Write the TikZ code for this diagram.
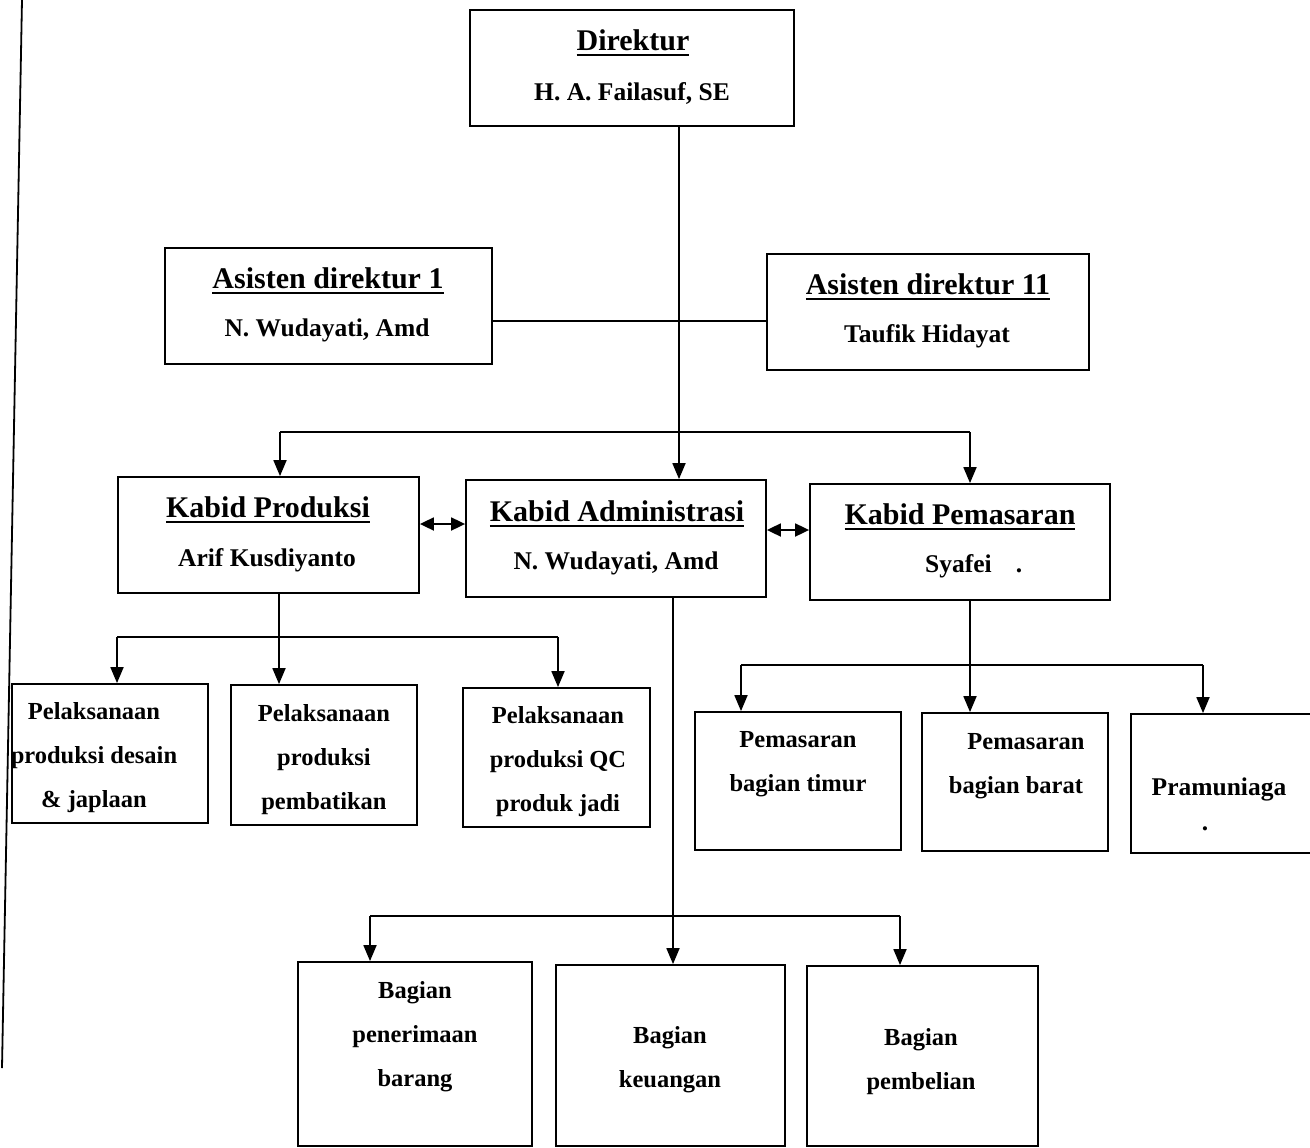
\documentclass[tikz,border=0pt]{standalone}
\usepackage{fontspec}
\setmainfont{Liberation Serif}
\usetikzlibrary{arrows.meta}
\newcommand\myul[1]{\setbox0\hbox{#1}\rlap{\rule[-5.5pt]{\wd0}{2.6pt}}\box0}
\begin{document}
\begin{tikzpicture}[x=1pt,y=-1pt,
  box/.style={draw,line width=1.8pt,inner sep=0pt,rectangle},
  ttl/.style={inner sep=0pt,yshift=-3pt,font=\bfseries\fontsize{30}{36}\selectfont},
  nm/.style={inner sep=0pt,yshift=-3pt,font=\bfseries\fontsize{25.5}{30}\selectfont},
  txt/.style={inner sep=0pt,yshift=-3pt,align=center,font=\bfseries\fontsize{24.5}{44}\selectfont},
  ln/.style={line width=1.8pt},
  arr/.style={line width=1.8pt,-{Triangle[length=16pt,width=13pt]}},
  darr/.style={line width=1.8pt,{Triangle[length=14pt,width=13pt]}-{Triangle[length=14pt,width=13pt]}}]
\useasboundingbox (0,0) rectangle (1310,1148);
\fill[white] (0,0) rectangle (1310,1148);
% scan margin line
\draw[line width=1.8pt] (22,0) -- (2,1068);
% boxes
\node[box,minimum width=324pt,minimum height=116pt] (dir) at (632,68) {};
\node[box,minimum width=327pt,minimum height=116pt] (as1) at (328.5,306) {};
\node[box,minimum width=322pt,minimum height=116pt] (as2) at (928,312) {};
\node[box,minimum width=301pt,minimum height=116pt] (kp) at (268.5,535) {};
\node[box,minimum width=300pt,minimum height=117pt] (ka) at (616,538.5) {};
\node[box,minimum width=300pt,minimum height=116pt] (kpm) at (960,542) {};
\node[box,minimum width=196pt,minimum height=139pt] (pa) at (110,753.5) {};
\node[box,minimum width=186pt,minimum height=140pt] (pb) at (324,755) {};
\node[box,minimum width=187pt,minimum height=139pt] (pc) at (556.5,757.5) {};
\node[box,minimum width=206pt,minimum height=138pt] (mt) at (798,781) {};
\node[box,minimum width=186pt,minimum height=138pt] (mb) at (1015,782) {};
\node[box,minimum width=199pt,minimum height=139pt] (pr) at (1230.5,783.5) {};
\node[box,minimum width=234pt,minimum height=184pt] (bp) at (415,1054) {};
\node[box,minimum width=229pt,minimum height=181pt] (bk) at (670.5,1055.5) {};
\node[box,minimum width=231pt,minimum height=180pt] (bb) at (922.5,1056) {};
% texts
\node[ttl] (dirT) at (633,40) {\myul{Direktur}};
\node[nm] (dirN) at (632,90) {H. A. Failasuf, SE};
\node[ttl] (as1T) at (328,278) {\myul{Asisten direktur 1}};
\node[nm] (as1N) at (327,327) {N. Wudayati, Amd};
\node[ttl] (as2T) at (928,284) {\myul{Asisten direktur 11}};
\node[nm] (as2N) at (927,333) {Taufik Hidayat};
\node[ttl] (kpT) at (268,507) {\myul{Kabid Produksi}};
\node[nm] (kpN) at (267,557) {Arif Kusdiyanto};
\node[ttl] (kaT) at (617,511) {\myul{Kabid Administrasi}};
\node[nm] (kaN) at (616,560) {N. Wudayati, Amd};
\node[ttl] (kpmT) at (960,514) {\myul{Kabid Pemasaran}};
\node[nm,anchor=west] (kpmN) at (925,563) {Syafei\hspace{24pt}.};
\node[txt] (paT) at (94,755) {Pelaksanaan\\produksi desain\\\& japlaan};
\node[txt] (pbT) at (324,757) {Pelaksanaan\\produksi\\pembatikan};
\node[txt] (pcT) at (558,759) {Pelaksanaan\\produksi QC\\produk jadi};
\node[txt] (mtT) at (798,761.5) {Pemasaran\\bagian timur};
\node[txt] (mbT) at (1016,763) {\hspace*{20pt}Pemasaran\\bagian barat};
\node[nm] (prT) at (1219,786) {Pramuniaga};
\node[nm] (prD) at (1205,826) {.};
\node[txt] (bpT) at (415,1034) {Bagian\\penerimaan\\barang};
\node[txt] (bkT) at (670,1057) {Bagian\\keuangan};
\node[txt] (bbT) at (921,1059) {Bagian\\pembelian};
% junction coordinates
\coordinate (jA) at (679,321);
\coordinate (jBl) at (280,432);
\coordinate (jBr) at (970,432);
\coordinate (jC) at (0,524);
\coordinate (jD) at (0,530);
\coordinate (jPl) at (117,637);
\coordinate (jPm) at (279,637);
\coordinate (jPr) at (558,637);
\coordinate (jMl) at (741,665);
\coordinate (jMm) at (970,665);
\coordinate (jMr) at (1203,665);
\coordinate (jAl) at (370,916);
\coordinate (jAm) at (673,916);
\coordinate (jAr) at (900,916);
% connectors
\draw[ln] (as1.east |- jA) -- (as2.west |- jA);
\draw[arr] (dir.south -| jA) -- (ka.north -| jA);
\draw[ln] (jBl) -- (jBr);
\draw[arr] (jBl) -- (kp.north -| jBl);
\draw[arr] (jBr) -- (kpm.north -| jBr);
\draw[darr] (kp.east |- jC) -- (ka.west |- jC);
\draw[darr] (ka.east |- jD) -- (kpm.west |- jD);
% produksi
\draw[arr] (kp.south -| jPm) -- (pb.north -| jPm);
\draw[ln] (jPl) -- (jPr);
\draw[arr] (jPl) -- (pa.north -| jPl);
\draw[arr] (jPr) -- (pc.north -| jPr);
% pemasaran
\draw[arr] (kpm.south -| jMm) -- (mb.north -| jMm);
\draw[ln] (jMl) -- (jMr);
\draw[arr] (jMl) -- (mt.north -| jMl);
\draw[arr] (jMr) -- (pr.north -| jMr);
% administrasi
\draw[arr] (ka.south -| jAm) -- (bk.north -| jAm);
\draw[ln] (jAl) -- (jAr);
\draw[arr] (jAl) -- (bp.north -| jAl);
\draw[arr] (jAr) -- (bb.north -| jAr);
\end{tikzpicture}
\end{document}
